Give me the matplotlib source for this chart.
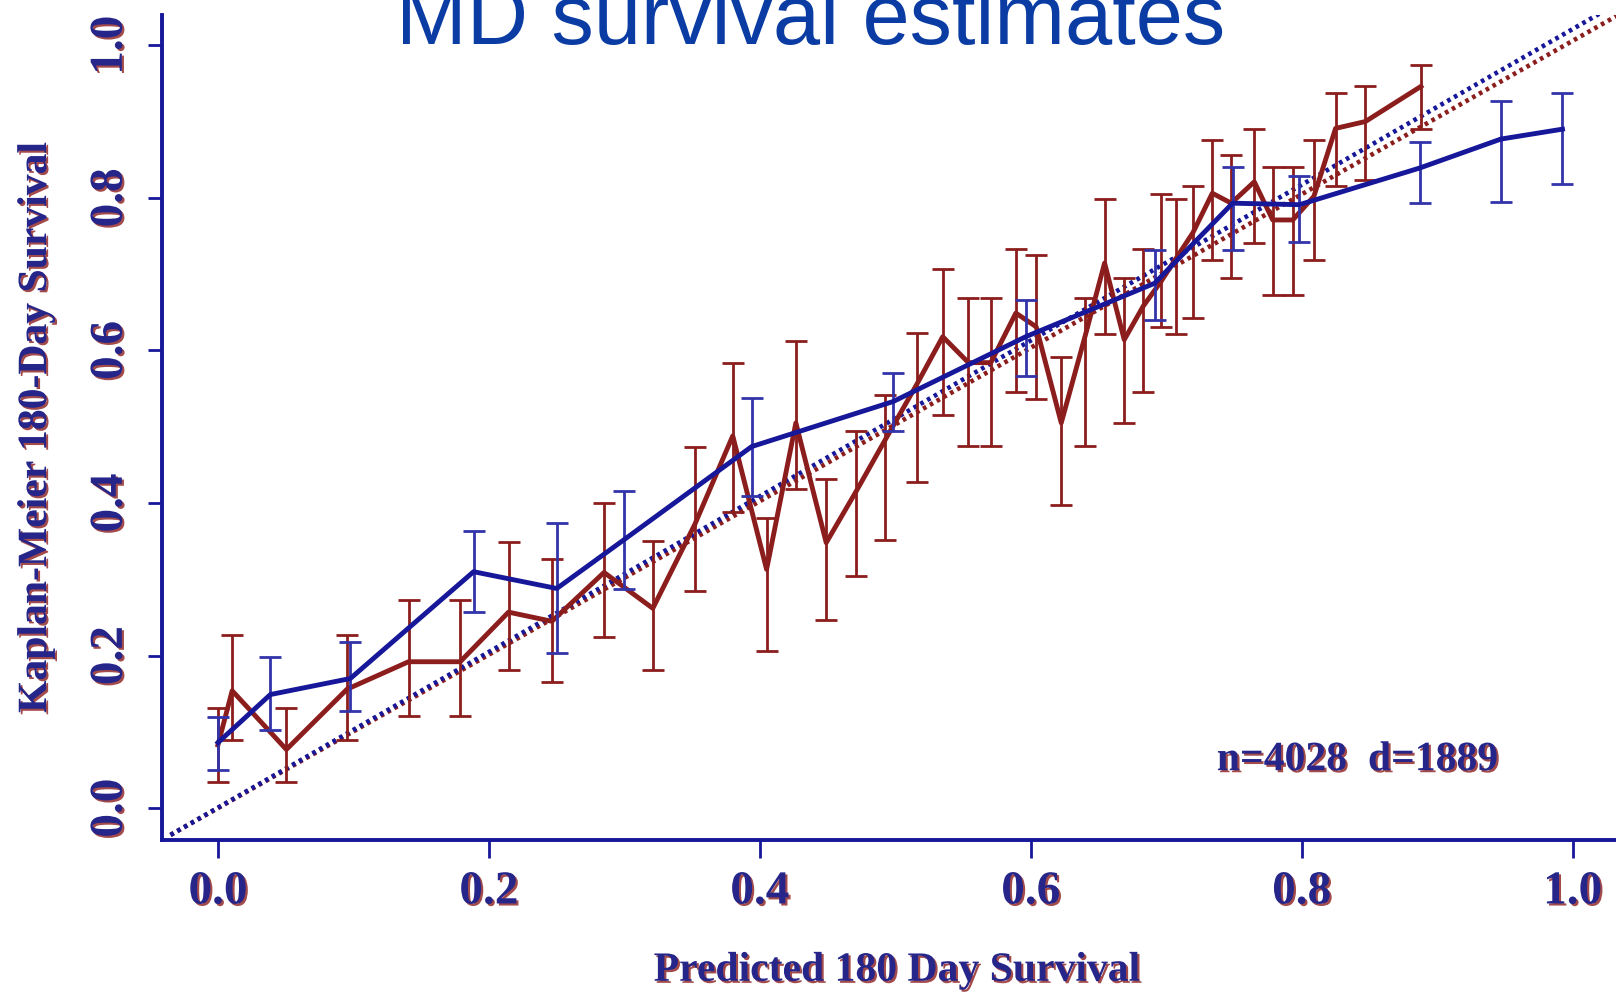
import numpy as np
import matplotlib
matplotlib.use("Agg")
import matplotlib.pyplot as plt
import matplotlib.patheffects as pe

# red series: predicted, observed, lower, upper
red_x = [0.000, 0.0105, 0.0505, 0.0953, 0.1407, 0.1788, 0.2145, 0.2465, 0.285, 0.321,
         0.352, 0.380, 0.405, 0.4266, 0.449, 0.471, 0.4926, 0.516, 0.535, 0.554,
         0.5705, 0.589, 0.604, 0.6225, 0.640, 0.6545, 0.669, 0.683, 0.696, 0.707,
         0.7196, 0.734, 0.748, 0.765, 0.7786, 0.7934, 0.809, 0.825, 0.847, 0.888]
red_y = [0.083, 0.154, 0.077, 0.156, 0.192, 0.192, 0.257, 0.245, 0.309, 0.262,
         0.372, 0.488, 0.313, 0.505, 0.348, 0.415, 0.483, 0.556, 0.618, 0.584,
         0.584, 0.649, 0.631, 0.505, 0.618, 0.7145, 0.614, 0.658, 0.69, 0.72,
         0.754, 0.806, 0.793, 0.821, 0.771, 0.771, 0.802, 0.891, 0.900, 0.946]
red_lo = [0.034, 0.090, 0.034, 0.089, 0.121, 0.121, 0.181, 0.165, 0.224, 0.181,
          0.285, 0.388, 0.206, 0.418, 0.247, 0.304, 0.352, 0.428, 0.515, 0.475,
          0.475, 0.545, 0.536, 0.397, 0.475, 0.621, 0.505, 0.546, 0.631, 0.621,
          0.643, 0.719, 0.695, 0.741, 0.673, 0.673, 0.718, 0.815, 0.824, 0.890]
red_hi = [0.132, 0.227, 0.132, 0.227, 0.273, 0.273, 0.349, 0.327, 0.400, 0.350,
          0.474, 0.584, 0.381, 0.612, 0.431, 0.494, 0.542, 0.623, 0.707, 0.669,
          0.669, 0.733, 0.725, 0.592, 0.669, 0.798, 0.695, 0.733, 0.805, 0.798,
          0.815, 0.876, 0.856, 0.890, 0.841, 0.841, 0.876, 0.937, 0.946, 0.974]

# blue series
blue_x = [0.000, 0.0387, 0.0977, 0.1887, 0.2501, 0.2998, 0.394, 0.4984, 0.5963,
          0.6914, 0.749, 0.7983, 0.887, 0.947, 0.9925]
blue_y = [0.086, 0.149, 0.170, 0.310, 0.288, 0.352, 0.474, 0.533, 0.618,
          0.688, 0.793, 0.791, 0.839, 0.877, 0.890]
blue_lo = [0.050, 0.103, 0.127, 0.257, 0.204, 0.287, 0.409, 0.495, 0.567,
           0.640, 0.732, 0.742, 0.793, 0.794, 0.818]
blue_hi = [0.120, 0.198, 0.218, 0.363, 0.374, 0.416, 0.537, 0.570, 0.666,
           0.732, 0.841, 0.828, 0.873, 0.927, 0.938]

# identity reference lines
ref_x = [-0.035, 1.04]
ref_red = [-0.035, 1.046]
ref_blue = [-0.035, 1.062]

ticks = [0.0, 0.2, 0.4, 0.6, 0.8, 1.0]
tick_labels = ["0.0", "0.2", "0.4", "0.6", "0.8", "1.0"]

RED = "#8c1d1d"
BLUE = "#17179a"
BLUE_BAR = "#3333aa"
INK = "#25258a"
shadow = [pe.SimplePatchShadow(offset=(1.5, -1.5), shadow_rgbFace=RED, alpha=0.8), pe.Normal()]
serif = {"family": "Liberation Serif", "weight": "bold"}

fig = plt.figure(figsize=(16.16, 9.98), dpi=100)
ax = fig.add_axes([0.1005, 0.1588, 0.8995, 0.8257])

ax.plot(ref_x, ref_red, color=RED, lw=3.3, ls=(0, (0.8, 0.9)), zorder=2)
ax.plot(ref_x, ref_blue, color=BLUE, lw=3.3, ls=(0, (0.8, 0.9)), zorder=2)

ry = np.array(red_y)
ax.errorbar(red_x, red_y, yerr=[ry - np.array(red_lo), np.array(red_hi) - ry],
            color=RED, lw=3.5, elinewidth=2.0, capsize=8, capthick=2.0, zorder=3)
by = np.array(blue_y)
ax.errorbar(blue_x, blue_y, yerr=[by - np.array(blue_lo), np.array(blue_hi) - by],
            color=BLUE, ecolor=BLUE_BAR, lw=3.5, elinewidth=2.0, capsize=8, capthick=2.0, zorder=4)

ax.set_xlim(-0.041, 1.032)
ax.set_ylim(-0.041, 1.039)
ax.spines["top"].set_visible(False)
ax.spines["right"].set_visible(False)
for s in ["left", "bottom"]:
    ax.spines[s].set_color(BLUE)
    ax.spines[s].set_linewidth(2.8)
    ax.spines[s].set_path_effects(shadow)

ax.set_xticks(ticks)
ax.set_xticklabels(tick_labels, fontdict=serif, fontsize=34, color=INK)
ax.set_yticks(ticks)
ax.set_yticklabels(tick_labels, fontdict=serif, fontsize=34, color=INK,
                   rotation=90, va="center")
ax.tick_params(axis="x", length=13, width=2, color=BLUE, pad=10)
ax.tick_params(axis="y", length=10, width=2, color=BLUE, pad=12)
for lab in ax.get_xticklabels() + ax.get_yticklabels():
    lab.set_path_effects(shadow)

ax.text(0.841, 0.063, "n=4028  d=1889", fontdict=serif, fontsize=30, color=INK,
        ha="center", va="center", path_effects=shadow)

fig.text(0.5548, 0.0273, "Predicted 180 Day Survival", fontdict=serif, fontsize=30,
         color=INK, ha="center", va="center", path_effects=shadow)
fig.text(0.0223, 0.5715, "Kaplan-Meier 180-Day Survival", fontdict=serif, fontsize=30,
         color=INK, ha="center", va="center", rotation=90, path_effects=shadow)

fig.text(0.5016, 0.9559, "MD survival estimates", family="Liberation Sans", fontsize=61,
         color="#0a3ca4", ha="center", va="baseline")

fig.savefig("out.png", dpi=100, facecolor="white")
